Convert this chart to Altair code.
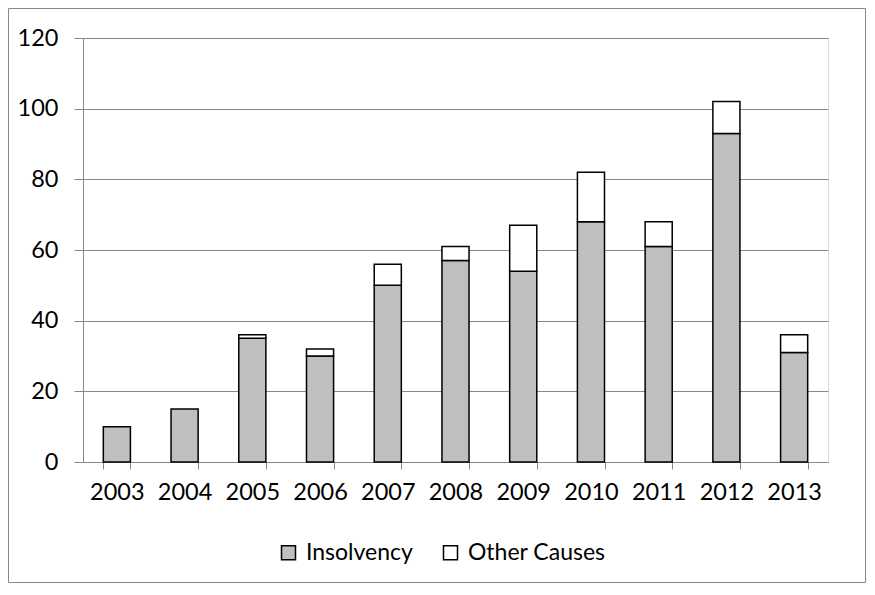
import altair as alt
import pandas as pd

years = ["2003", "2004", "2005", "2006", "2007", "2008", "2009", "2010", "2011", "2012", "2013"]
insolvency = [10, 15, 35, 30, 50, 57, 54, 68, 61, 93, 31]
other_causes = [0, 0, 1, 2, 6, 4, 13, 14, 7, 9, 5]
series = ["Insolvency", "Other Causes"]
colors = ["#BFBFBF", "#FFFFFF"]

rows = []
for i, y in enumerate(years):
    rows.append({"year": y, "series": series[0], "value": insolvency[i], "ord": 0})
    if other_causes[i] > 0:
        rows.append({"year": y, "series": series[1], "value": other_causes[i], "ord": 1})
df = pd.DataFrame(rows)

FONT = "Lato"
GRID = "#888888"

bars = alt.Chart(df).mark_bar(stroke="black", strokeWidth=1.5).encode(
    x=alt.X("year:N", sort=years, title=None,
            scale=alt.Scale(paddingInner=0.6, paddingOuter=0.3),
            axis=alt.Axis(labelAngle=0, tickBand="extent", tickSize=7, tickColor=GRID,
                          domainColor=GRID, labelFont=FONT, labelFontSize=23.5,
                          labelColor="black", labelPadding=11, grid=False)),
    y=alt.Y("value:Q", stack="zero", title=None,
            scale=alt.Scale(domain=[0, 120], nice=False),
            axis=alt.Axis(values=[0, 20, 40, 60, 80, 100, 120], tickSize=9, tickColor=GRID,
                          domainColor=GRID, gridColor=GRID, gridWidth=1, labelFont=FONT,
                          labelFontSize=23.5, labelColor="black", labelPadding=16)),
    fill=alt.Fill("series:N", scale=alt.Scale(domain=series, range=colors),
                  legend=alt.Legend(title=None, orient="none", direction="horizontal",
                                    legendX=194, legendY=503, symbolType="square",
                                    symbolSize=196, symbolStrokeColor="black",
                                    symbolStrokeWidth=1.5, labelFont=FONT, labelFontSize=23,
                                    labelColor="black", labelOffset=6, columnPadding=26)),
    order=alt.Order("ord:Q"),
)

frame = alt.Chart(pd.DataFrame({"a": [0]})).mark_rect(fill=None, stroke=GRID, strokeWidth=1).encode(
    x=alt.value(-74.5), x2=alt.value(782.5), y=alt.value(-29.5), y2=alt.value(544.5)
)

chart = alt.layer(frame, bars).properties(
    width=745, height=424,
    autosize=alt.AutoSizeParams(type="none"),
    padding={"left": 75, "top": 30, "right": 39, "bottom": 121},
).configure_view(stroke=None).configure(background="white")

chart.save("out.html", embed_options={"renderer": "svg", "actions": False})
